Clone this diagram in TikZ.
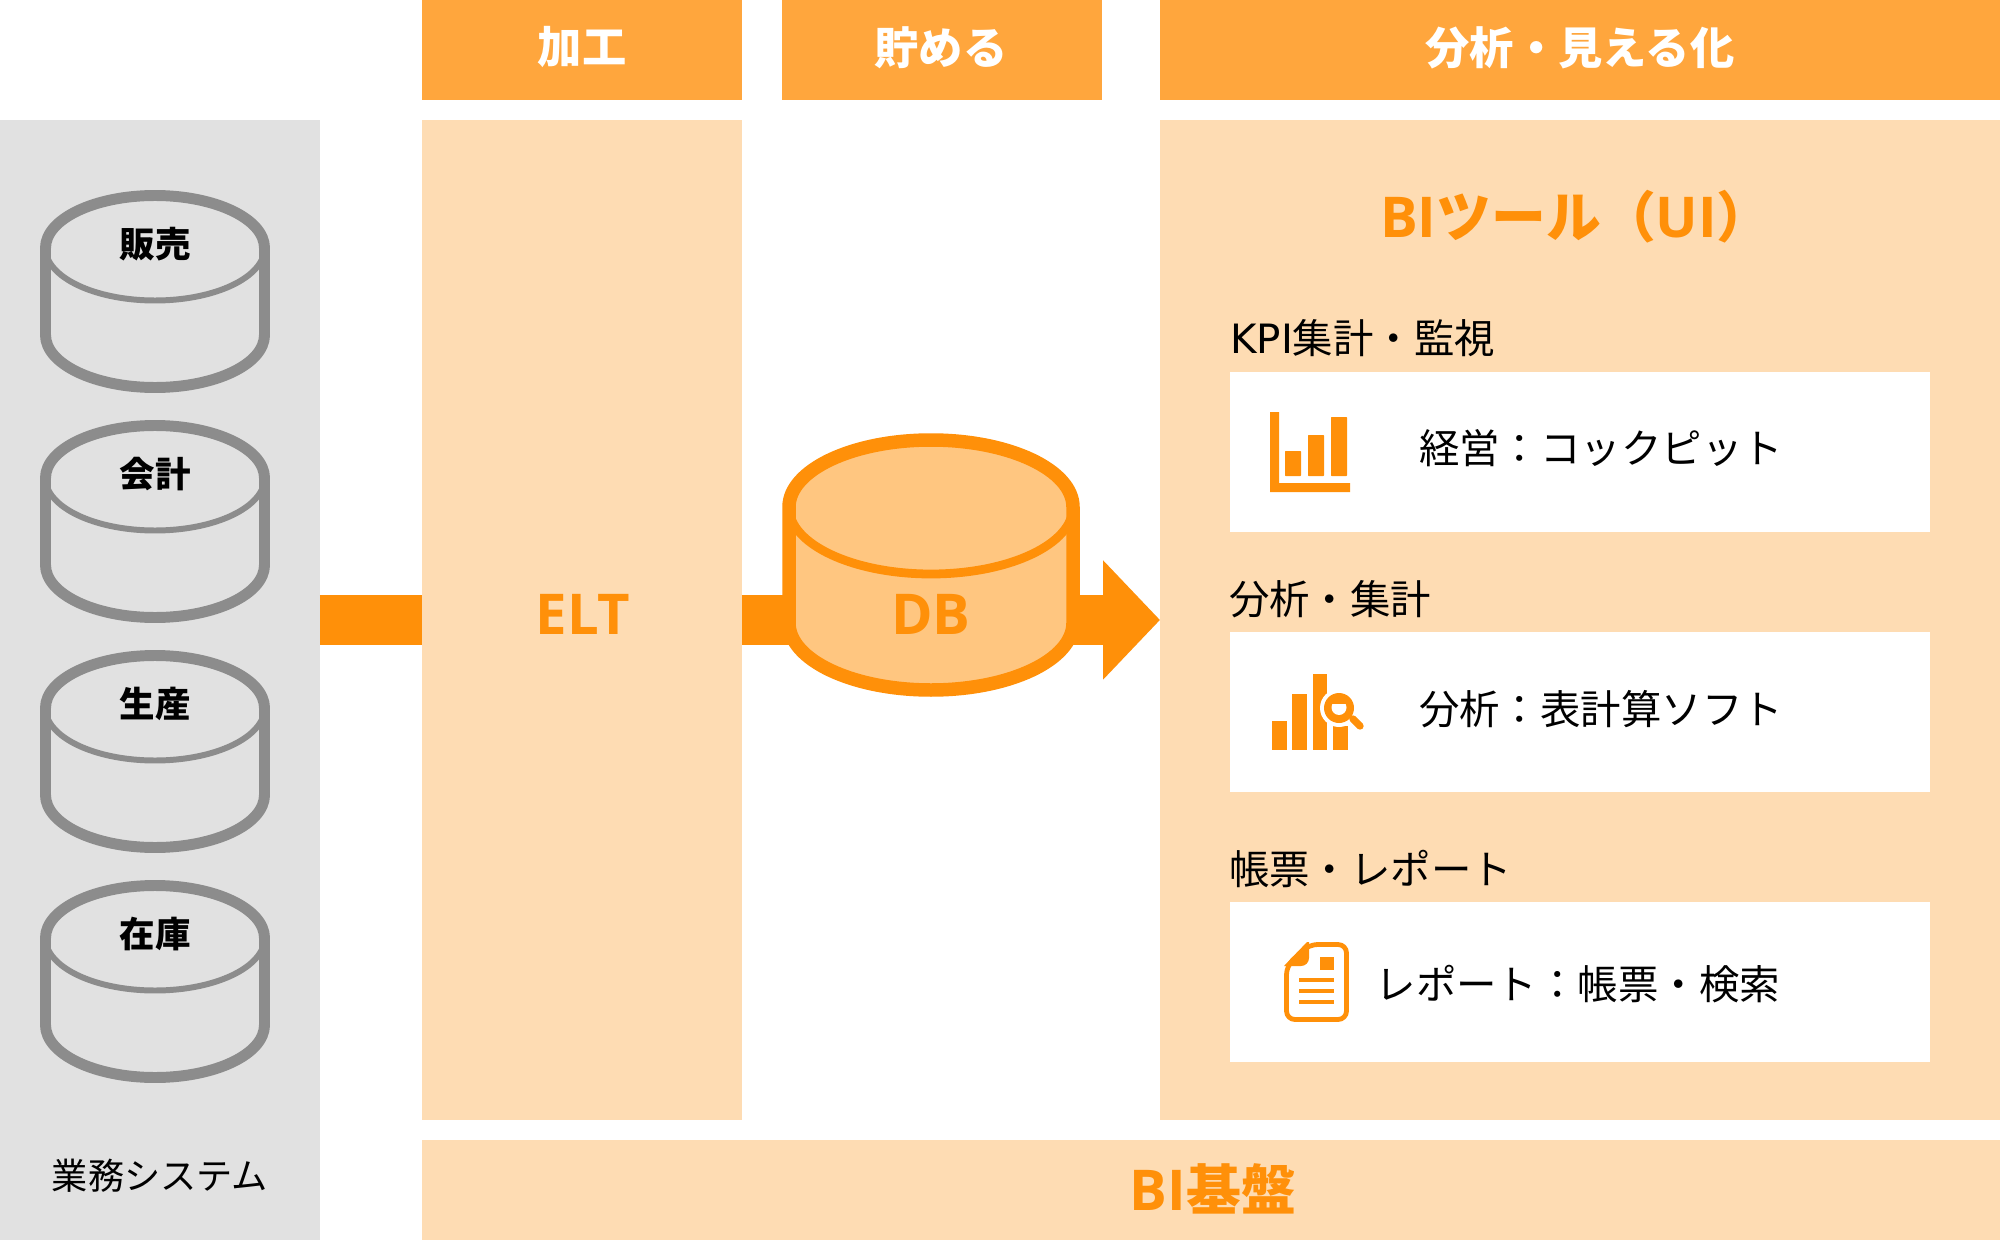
\documentclass[tikz,border=0pt]{standalone}
\usepackage{fontspec}
\setmainfont{Noto Sans CJK JP}
\newfontfamily\latbold{Open Sans}
\newfontfamily\latbody{DejaVu Sans}
\usetikzlibrary{arrows.meta}
\definecolor{ora}{HTML}{FF9009}
\definecolor{hdr}{HTML}{FFA63D}
\definecolor{pale}{HTML}{FEDCB3}
\definecolor{dbfill}{HTML}{FFC680}
\definecolor{sysbg}{HTML}{E1E1E1}
\definecolor{cyl}{HTML}{8C8C8C}
\newcommand{\pxfont}[1]{\fontsize{#1}{#1}\selectfont}
\newcommand{\latb}[1]{{\latbold\pxfont{80pt}\bfseries #1}}
\newcommand{\cylinder}[7]{%
 % cx, rx, top centre y, bottom centre y, ry, line, thin line
 \draw[line width=#6,line join=round,#7]
   (#1-#2,#3) -- (#1-#2,#4) arc[start angle=180,end angle=0,x radius=#2,y radius=#5]
   -- (#1+#2,#3) arc[start angle=0,end angle=-180,x radius=#2,y radius=#5] -- cycle;
}
\tikzset{
 x=0.05cm,y=-0.05cm,
 panel/.style={rectangle,inner sep=0pt,outer sep=0pt,fill=pale,anchor=north west},
 hdrbox/.style={rectangle,inner sep=0pt,outer sep=0pt,fill=hdr,anchor=north west,minimum height=5cm},
 whitebox/.style={rectangle,inner sep=0pt,outer sep=0pt,fill=white,anchor=north west,minimum width=35cm,minimum height=8cm},
 hdrtext/.style={inner sep=0pt,text=white,font=\pxfont{63pt}\bfseries},
 bigora/.style={inner sep=0pt,text=ora,font=\pxfont{78pt}\bfseries},
 cyltext/.style={inner sep=0pt,text=black,font=\pxfont{50.5pt}\bfseries},
 bodytext/.style={inner sep=0pt,text=black,font=\pxfont{57.5pt}},
 flow/.style={draw=ora,line width=71.13pt},
}
\begin{document}
\begin{tikzpicture}
\useasboundingbox (0,0) rectangle (2000,1240);
\fill[white] (0,0) rectangle (2000,1240);
% panels
\node[panel,fill=sysbg,minimum width=16cm,minimum height=56cm] (sys) at (0,120) {};
\node[panel,minimum width=16cm,minimum height=50cm] (elt) at (422,120) {};
\node[panel,minimum width=42cm,minimum height=50cm] (ana) at (1160,120) {};
\node[panel,minimum width=78.9cm,minimum height=5cm] (base) at (422,1140) {};
% headers
\node[hdrbox,minimum width=16cm] (h1) at (422,0) {};
\node[hdrbox,minimum width=16cm] (h2) at (782,0) {};
\node[hdrbox,minimum width=42cm] (h3) at (1160,0) {};
\node[hdrtext] (h1t) at (582,47.5) {加工};
\node[hdrtext] (h2t) at (941,47.5) {貯める};
\node[hdrtext] (h3t) at (1580,47.5) {分析・見える化};
% connectors
\draw[flow] (sys.east |- elt.west) -- (elt.west);
\draw[flow,-{Triangle[length=81pt,width=165pt]}] (elt.east) -- (ana.west);
% source cylinders
\foreach \t/\n/\lab in {190/a/販売,420/b/会計,650/c/生産,880/d/在庫}{
  \pgfmathsetmacro{\yt}{\t+58}
  \pgfmathsetmacro{\yb}{\t+145}
  \cylinder{155}{109.5}{\yt}{\yb}{52.5}{15.6pt}{draw=cyl}
  \draw[draw=cyl,line width=8.5pt] (155-109.5,\yt) arc[start angle=180,end angle=0,x radius=109.5,y radius=52.5];
  \node[cyltext] (lab\n) at (155,\t+54) {\lab};
}
\node[bodytext,font=\pxfont{51.5pt}] (systxt) at (160,1176) {業務システム};
% DB
\cylinder{931}{142}{507}{623}{67}{19.2pt}{draw=ora,fill=dbfill}
\draw[draw=ora,line width=12.5pt] (931-142,507) arc[start angle=180,end angle=0,x radius=142,y radius=67];
% labels
\node[bigora] (elttxt) at (583,614) {\latb{ELT}};
\node[bigora] (dbtxt) at (931,614) {\latb{DB}};
\node[bigora,anchor=west] (bititle) at (1380,217) {\latb{BI}ツール（\latb{UI}）};
\node[bigora] (basetxt) at (1213,1189) {\latb{BI}基盤};
% white boxes
\node[whitebox] (w1) at (1230,372) {};
\node[whitebox] (w2) at (1230,632) {};
\node[whitebox] (w3) at (1230,902) {};
\node[bodytext,anchor=west] (l1) at (1230,338) {{\latbody KPI}集計・監視};
\node[bodytext,anchor=west] (l2) at (1229,599) {分析・集計};
\node[bodytext,anchor=west] (l3) at (1229,869) {帳票・レポート};
\node[bodytext,anchor=west] (t1) at (1419,448) {経営：コックピット};
\node[bodytext,anchor=west] (t2) at (1419,709) {分析：表計算ソフト};
\node[bodytext,anchor=east] (t3) at (1780,984) {レポート：帳票・検索};
% icon 1
\fill[ora] (1270,412) rectangle (1279,483) (1270,483) rectangle (1350,492);
\fill[ora,rounded corners=1pt] (1285,451) rectangle (1301,476);
\fill[ora,rounded corners=1pt] (1308,435) rectangle (1324,476);
\fill[ora,rounded corners=1pt] (1331,417) rectangle (1347,476);
% icon 2
\fill[ora] (1272,721) rectangle (1287,750);
\fill[ora] (1292,694) rectangle (1307,750);
\fill[ora] (1313,674) rectangle (1327,750);
\fill[ora] (1333,726) rectangle (1348,750);
\fill[white] (1339,708) circle[radius=19];
\fill[ora] (1339,708) circle[radius=15];
\fill[white] (1339,707.5) circle[radius=7.5];
\fill[ora] (1332,704) -- (1346,704) -- (1346,699) -- (1332,699) -- cycle;
\draw[ora,line width=10.5pt,line cap=round] (1353,719) -- (1360,726);
% icon 3
\draw[ora,line width=6.8pt,line join=round,rounded corners=12pt]
  (1286.5,966) -- (1309,944.5) -- (1346.5,944.5) -- (1346.5,1019.5) -- (1286.5,1019.5) -- cycle;
\fill[ora] (1284,966) -- (1307,942) -- (1309,942) -- (1309,958) arc[start angle=0,end angle=90,radius=8] -- cycle;
\fill[ora] (1320,957) rectangle (1334,970);
\fill[ora] (1299,978) rectangle (1334,982);
\fill[ora] (1299,989) rectangle (1334,993);
\fill[ora] (1299,1000) rectangle (1334,1004);
\end{tikzpicture}
\end{document}
